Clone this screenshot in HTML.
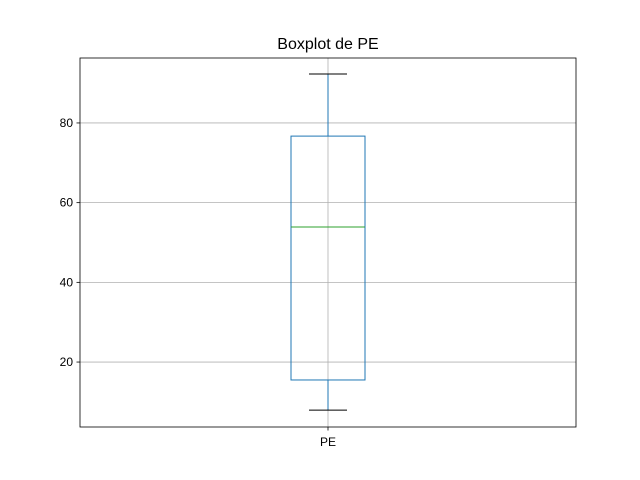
<!DOCTYPE html>
<html><head><meta charset="utf-8"><style>body{margin:0;background:#fff}svg{display:block;font-family:"Liberation Sans","DejaVu Sans",sans-serif}</style></head>
<body>
<svg id="chart" width="640" height="480">
<rect x="0" y="0" width="640" height="480" fill="#fff"/>
<g id="grid"></g><g id="marks"></g><g id="axes"></g>
<text x="328" y="49" text-anchor="middle" font-size="16">Boxplot de PE</text>
</svg>
<script>
const categories=["PE"];
const whiskerLow=[7.95];
const q1=[15.5];
const median=[53.9];
const q3=[76.7];
const whiskerHigh=[92.3];
const yTicks=[20,40,60,80];
const L=80,R=576,T=58,B=427,yMin=3.7,yMax=96.3;
const y=v=>B-(v-yMin)/(yMax-yMin)*(B-T);
const x=i=>L+(i+0.5)*(R-L)/categories.length;
const ns="http://www.w3.org/2000/svg";
function mk(p,t,a){const e=document.createElementNS(ns,t);for(const k in a)e.setAttribute(k,a[k]);p.appendChild(e);return e;}
const grid=document.getElementById('grid'),marks=document.getElementById('marks'),axes=document.getElementById('axes');
yTicks.forEach(v=>{
 const g=mk(grid,'line',{x1:L,x2:R,y1:y(v),y2:y(v),stroke:'#b0b0b0','stroke-width':0.8});
 
 
 const t=mk(axes,'line',{x1:L-3.5,x2:L,y1:y(v),y2:y(v),stroke:'#000','stroke-width':0.8});
 
 
 const l=mk(axes,'text',{x:L-7,y:y(v)+4,'text-anchor':'end','font-size':12});
 l.textContent=v;
 
 
});
categories.forEach((c,i)=>{
 const cx=x(i),hw=37,cw=19;
 const vg=mk(grid,'line',{x1:cx,x2:cx,y1:T,y2:B,stroke:'#b0b0b0','stroke-width':0.8});
 
 
 const st={stroke:'#1f77b4','stroke-width':1,fill:'none'};
 const box=mk(marks,'rect',Object.assign({x:cx-hw,y:y(q3[i]),width:2*hw,height:y(q1[i])-y(q3[i])},st));
 
 
 const w1=mk(marks,'line',Object.assign({x1:cx,x2:cx,y1:y(q3[i]),y2:y(whiskerHigh[i])},st));
 
 
 const w2=mk(marks,'line',Object.assign({x1:cx,x2:cx,y1:y(q1[i]),y2:y(whiskerLow[i])},st));
 
 
 const c1=mk(marks,'line',{x1:cx-cw,x2:cx+cw,y1:y(whiskerHigh[i]),y2:y(whiskerHigh[i]),stroke:'#000','stroke-width':1});
 
 
 const c2=mk(marks,'line',{x1:cx-cw,x2:cx+cw,y1:y(whiskerLow[i]),y2:y(whiskerLow[i]),stroke:'#000','stroke-width':1});
 
 
 const m=mk(marks,'line',{x1:cx-hw,x2:cx+hw,y1:y(median[i]),y2:y(median[i]),stroke:'#2ca02c','stroke-width':1});
 
 
 const xt=mk(axes,'line',{x1:cx,x2:cx,y1:B,y2:B+3.5,stroke:'#000','stroke-width':0.8});
 
 
 const xl=mk(axes,'text',{x:cx,y:B+19,'text-anchor':'middle','font-size':12});
 xl.textContent=c;
 
 
});
const fr=mk(axes,'rect',{x:L,y:T,width:R-L,height:B-T,fill:'none',stroke:'#000','stroke-width':0.8});


</script>
</body></html>
